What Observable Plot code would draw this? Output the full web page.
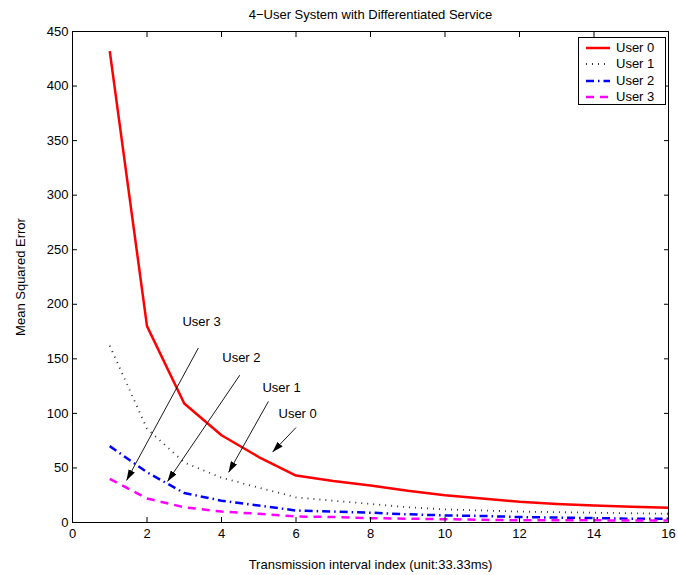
<!DOCTYPE html>
<html>
<head>
<meta charset="utf-8">
<script src="https://cdn.jsdelivr.net/npm/d3@7"></script>
<script src="https://cdn.jsdelivr.net/npm/@observablehq/plot@0.6"></script>
<style>
  html, body { margin: 0; padding: 0; background: #fff; }
  #wrap { position: relative; width: 678px; height: 575px; font-family: "Liberation Sans", Arial, sans-serif; }
  #legend { position: absolute; left: 578px; top: 37px; width: 86px; height: 66px; border: 1px solid #000; background: #fff; font-size: 13px; }
  .row { position: absolute; left: 0; height: 16px; width: 86px; }
  .row svg { position: absolute; left: 6px; top: 0; }
  .row span { position: absolute; left: 37px; top: 0; line-height: 16px; color: #000; }
</style>
</head>
<body>
<div id="wrap"></div>
<script>
// ---- data ----
const xs = [1, 2, 3, 4, 5, 6, 7, 8, 9, 10, 11, 12, 13, 14, 15, 16];
const user0 = [432, 180, 109, 80, 60, 43, 38, 34, 29, 25, 22, 19, 17, 15.5, 14.5, 13.5];
const user1 = [162, 86, 55, 41, 32, 23, 20, 17, 14, 12, 11, 10, 9.5, 9, 8.5, 8];
const user2 = [70, 46, 27, 20, 15.5, 11, 10, 9, 7.5, 6.5, 6, 5, 4.5, 4, 3.5, 3.5];
const user3 = [40, 22, 14, 10, 8, 5.5, 5, 4, 3.5, 3, 2.5, 2, 2, 2, 1.8, 1.8];
const seriesNames = ["User 0", "User 1", "User 2", "User 3"];
const xTicks = [0, 2, 4, 6, 8, 10, 12, 14, 16];
const yTicks = [0, 50, 100, 150, 200, 250, 300, 350, 400, 450];

// annotations (data coordinates)
const annLabels = ["User 3", "User 2", "User 1", "User 0"];
const annTextX = [2.95, 4.02, 5.10, 5.53];
const annTextY = [184, 151, 123, 100];
const arrowX1 = [3.38, 4.49, 5.26, 6.0];
const arrowY1 = [160, 135, 111, 87];
const arrowX2 = [1.45, 2.55, 4.19, 5.37];
const arrowY2 = [38.5, 37.6, 45.9, 64.5];

const title = "4\u2212User System with Differentiated Service";
const xLabel = "Transmission interval index (unit:33.33ms)";
const yLabel = "Mean Squared Error";

// ---- styles ----
const styles = [
  {stroke: "#ff0000", strokeWidth: 2.5, dash: null},
  {stroke: "#333333", strokeWidth: 1.8, dash: "1 5"},
  {stroke: "#0000ff", strokeWidth: 2.5, dash: "8 4 1.5 4"},
  {stroke: "#ff00ff", strokeWidth: 2.5, dash: "8 6"}
];
const allSeries = [user0, user1, user2, user3];

const tables = allSeries.map((vals, s) => xs.map((x, i) => ({x, y: vals[i], series: seriesNames[s]})));
const annData = annLabels.map((t, i) => ({text: t, x: annTextX[i], y: annTextY[i]}));
const arrowData = annLabels.map((t, i) => ({x1: arrowX1[i], y1: arrowY1[i], x2: arrowX2[i], y2: arrowY2[i]}));

function filledArrow(color) {
  const m = d3.create("svg:marker")
    .attr("viewBox", "0 -3.5 11 7")
    .attr("refX", 11).attr("refY", 0)
    .attr("markerUnits", "userSpaceOnUse")
    .attr("markerWidth", 11).attr("markerHeight", 7)
    .attr("orient", "auto");
  m.append("path").attr("d", "M0,-3.5L11,0L0,3.5Z").attr("fill", color).attr("stroke", "none");
  return m.node();
}

function build(marker) {
  return Plot.plot({
    width: 678,
    height: 575,
    marginLeft: 72,
    marginRight: 10,
    marginTop: 31,
    marginBottom: 53,
    style: {fontSize: "13px", fontFamily: "'Liberation Sans', Arial, sans-serif", background: "white", color: "black"},
    x: {domain: [0, 16]},
    y: {domain: [0, 450]},
    marks: [
      ...tables.map((t, s) => Plot.line(t, {
        x: "x", y: "y",
        stroke: styles[s].stroke,
        strokeWidth: styles[s].strokeWidth,
        strokeDasharray: styles[s].dash,
        strokeLinecap: "butt"
      })),
      Plot.link(arrowData, {x1: "x1", y1: "y1", x2: "x2", y2: "y2", stroke: "black", strokeWidth: 0.9, markerEnd: marker}),
      Plot.text(annData, {x: "x", y: "y", text: "text", textAnchor: "start", fill: "black", fontSize: 13}),
      Plot.frame({stroke: "black", strokeWidth: 1}),
      Plot.axisX({anchor: "bottom", ticks: xTicks, tickSize: -5, tickPadding: 11, label: xLabel, labelAnchor: "center", labelArrow: "none", labelOffset: 46, fontSize: 13}),
      Plot.axisX({anchor: "top", ticks: xTicks, tickSize: -5, tickFormat: () => "", label: null}),
      Plot.axisY({anchor: "left", ticks: yTicks, tickSize: -5, tickPadding: 9, label: yLabel, labelAnchor: "center", labelArrow: "none", labelOffset: 57, fontSize: 13}),
      Plot.axisY({anchor: "right", ticks: yTicks, tickSize: -5, tickFormat: () => "", label: null}),
      Plot.text([title], {text: d => d, frameAnchor: "top", lineAnchor: "middle", dy: -17, fontSize: 13, fill: "black"})
    ]
  });
}

let chart;
try { chart = build(filledArrow); } catch (e) { chart = build("arrow"); }
const wrap = document.getElementById("wrap");
wrap.appendChild(chart);

// legend overlay
const legend = document.createElement("div");
legend.id = "legend";
const rowTops = [2, 18, 34.5, 51];
seriesNames.forEach((name, s) => {
  const row = document.createElement("div");
  row.className = "row";
  row.style.top = rowTops[s] + "px";
  const st = styles[s];
  row.innerHTML = `<svg width="26" height="16"><line x1="1" y1="8" x2="25" y2="8" stroke="${st.stroke}" stroke-width="${st.strokeWidth}" ${st.dash ? `stroke-dasharray="${st.dash}"` : ""}/></svg><span>${name}</span>`;
  legend.appendChild(row);
});
wrap.appendChild(legend);
</script>
</body>
</html>
